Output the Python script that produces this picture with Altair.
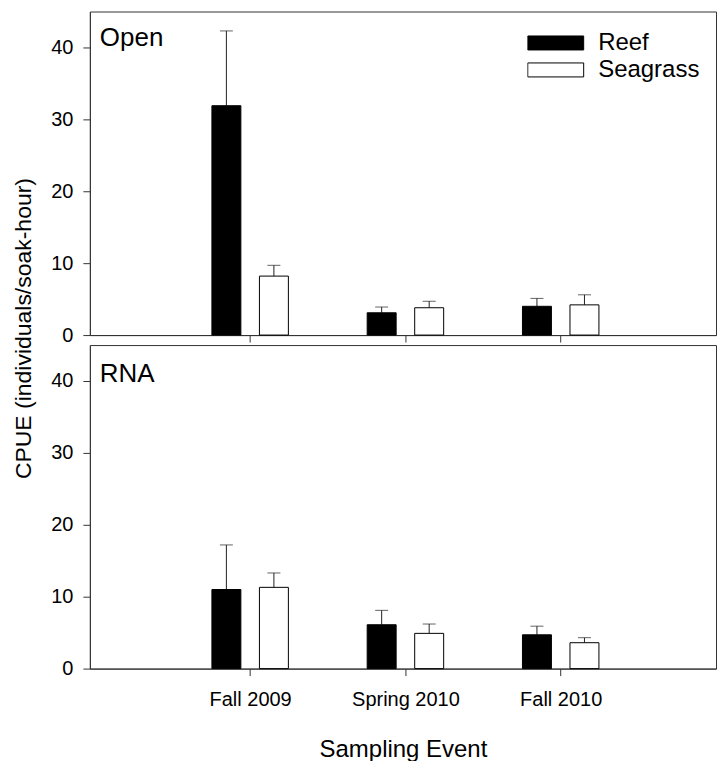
import altair as alt
import pandas as pd

events = ["Fall 2009", "Spring 2010", "Fall 2010"]
event_index = [1, 2, 3]
habitats = ["Reef", "Seagrass"]
sites = ["Open", "RNA"]

open_reef = [31.9, 3.1, 4.0]
open_reef_se = [10.4, 0.8, 1.1]
open_seagrass = [8.2, 3.8, 4.2]
open_seagrass_se = [1.5, 0.9, 1.4]

rna_reef = [11.0, 6.1, 4.7]
rna_reef_se = [6.2, 2.0, 1.2]
rna_seagrass = [11.3, 4.9, 3.6]
rna_seagrass_se = [2.0, 1.3, 0.7]

rows = []
for site, reef, reef_se, sea, sea_se in [
    ("Open", open_reef, open_reef_se, open_seagrass, open_seagrass_se),
    ("RNA", rna_reef, rna_reef_se, rna_seagrass, rna_seagrass_se),
]:
    for i, ev in enumerate(events):
        rows.append(dict(site=site, event=ev, idx=event_index[i], habitat="Reef",
                         mean=reef[i], se=reef_se[i]))
        rows.append(dict(site=site, event=ev, idx=event_index[i], habitat="Seagrass",
                         mean=sea[i], se=sea_se[i]))
df = pd.DataFrame(rows)

FONT = "Liberation Sans"
label_expr = "[" + ",".join("'%s'" % e for e in events) + "][datum.value - 1]"


def panel(site, bottom):
    base = alt.Chart(df).transform_filter(
        alt.datum.site == site
    ).transform_calculate(
        pos="datum.idx + (datum.habitat == 'Reef' ? -0.153 : 0.153)",
        upper="datum.mean + datum.se",
    )
    x = alt.X(
        "pos:Q",
        scale=alt.Scale(domain=[0, 3.968], nice=False, zero=False),
        axis=alt.Axis(
            values=event_index,
            labels=bottom,
            labelExpr=label_expr,
            title="Sampling Event" if bottom else None,
            grid=False,
            tickSize=7,
            labelPadding=14,
            titlePadding=28,
            titleFontSize=24,
            domain=True,
        ),
    )
    yaxis = dict(
        values=[0, 10, 20, 30, 40],
        grid=False,
        tickSize=7,
        labelPadding=10,
    )
    if bottom:
        yaxis["title"] = None
    else:
        yaxis.update(
            title="CPUE (individuals/soak-hour)",
            titleX=-66,
            titleY=317,
            titleAngle=270,
            titleAlign="center",
            titleBaseline="middle",
        )
    y = alt.Y("mean:Q", scale=alt.Scale(domain=[0, 45], nice=False),
              axis=alt.Axis(**yaxis))

    if bottom:
        legend = None
    else:
        legend = alt.Legend(
            orient="none",
            legendX=438,
            legendY=18,
            title=None,
            symbolType="M-1,-0.25L1,-0.25L1,0.25L-1,0.25Z",
            symbolSize=3136,
            symbolStrokeColor="black",
            symbolStrokeWidth=1,
            labelFontSize=24,
            labelFont=FONT,
            labelColor="black",
            labelOffset=14,
            clipHeight=27,
            rowPadding=0,
        )

    bars = base.mark_bar(size=29, stroke="black", strokeWidth=1).encode(
        x=x,
        y=y,
        color=alt.Color("habitat:N",
                        scale=alt.Scale(domain=habitats, range=["black", "white"]),
                        legend=legend),
    )
    rules = base.mark_rule(color="#222", strokeWidth=1).encode(
        x=x, y=y, y2="upper:Q"
    )
    caps = base.mark_tick(orient="horizontal", size=13, thickness=1, color="#222").encode(
        x=x, y=alt.Y("upper:Q")
    )
    label = alt.Chart(pd.DataFrame({"site": [site]})).mark_text(
        align="left", baseline="alphabetic", fontSize=26, font=FONT, color="black"
    ).encode(
        text="site:N",
        x=alt.value(10),
        y=alt.value(37 if bottom else 35),
    )
    return alt.layer(rules, caps, bars, label).properties(width=627, height=324)


chart = alt.vconcat(
    panel("Open", False), panel("RNA", True), spacing=10, bounds="flush"
).resolve_legend(color="independent").properties(
    padding={"left": 12, "top": 10, "right": 0, "bottom": 0}
).configure(font=FONT).configure_axis(
    labelFont=FONT,
    labelFontSize=20,
    titleFont=FONT,
    titleFontSize=23,
    titleFontWeight="normal",
    labelColor="black",
    titleColor="black",
    domainColor="#333",
    tickColor="#333",
).configure_view(stroke="#333", strokeWidth=1)

chart.save("out.html", embed_options={"renderer": "svg", "actions": False})
